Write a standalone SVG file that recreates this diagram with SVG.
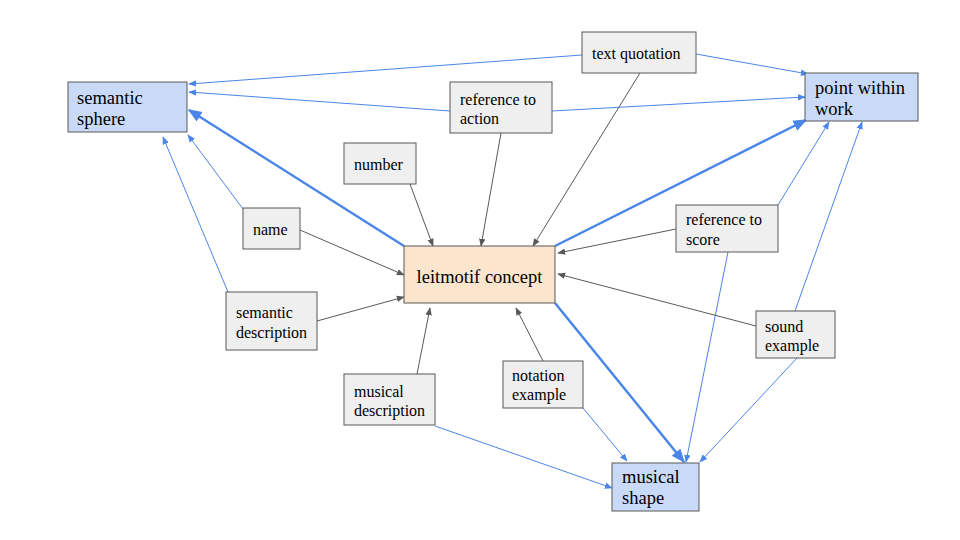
<svg xmlns="http://www.w3.org/2000/svg" width="960" height="540" viewBox="0 0 960 540">
<defs>
<marker id="ab" viewBox="0 0 10 10" refX="9" refY="5" markerWidth="8" markerHeight="8" markerUnits="userSpaceOnUse" orient="auto"><path d="M0,1 L10,5 L0,9 Z" fill="#4a86e8"/></marker>
<marker id="abig" viewBox="0 0 10 10" refX="9" refY="5" markerWidth="14" markerHeight="14" markerUnits="userSpaceOnUse" orient="auto"><path d="M0,1 L10,5 L0,9 Z" fill="#4a86e8"/></marker>
<marker id="ag" viewBox="0 0 10 10" refX="9" refY="5" markerWidth="8" markerHeight="8" markerUnits="userSpaceOnUse" orient="auto"><path d="M0,1 L10,5 L0,9 Z" fill="#595959"/></marker>
</defs>
<style>
.g rect{fill:#efefef;stroke:#595959;stroke-width:1}
.b rect{fill:#c9daf8;stroke:#595959;stroke-width:1}
.o rect{fill:#fce5cd;stroke:#595959;stroke-width:1}
text{fill:#000;font-family:"Liberation Serif","Times New Roman",serif}
.g text{font-size:16px}
.b text{font-size:18.5px}
.o text{font-size:18.5px}
.cb{stroke:#4a86e8;stroke-width:1;fill:none;marker-end:url(#ab)}
.cB{stroke:#4a86e8;stroke-width:2.5;fill:none;marker-end:url(#abig)}
.cg{stroke:#595959;stroke-width:1;fill:none;marker-end:url(#ag)}
</style>
<rect width="960" height="540" fill="#fff"/>
<g id="connectors">
<line class="cb" x1="582" y1="55" x2="189" y2="84"/>
<line class="cb" x1="696" y1="54" x2="808" y2="74"/>
<line class="cb" x1="450" y1="111" x2="189" y2="92"/>
<line class="cb" x1="552" y1="111" x2="805" y2="97"/>
<line class="cb" x1="243" y1="209" x2="188" y2="135"/>
<line class="cb" x1="228" y1="292" x2="163" y2="137"/>
<line class="cb" x1="778" y1="205" x2="829" y2="122"/>
<line class="cb" x1="728" y1="252" x2="686" y2="462"/>
<line class="cb" x1="795" y1="311" x2="862" y2="122"/>
<line class="cb" x1="797" y1="358" x2="700" y2="462"/>
<line class="cb" x1="435" y1="426" x2="612" y2="488"/>
<line class="cb" x1="583" y1="408" x2="627" y2="461"/>
<line class="cB" x1="404" y1="246" x2="189" y2="110"/>
<line class="cB" x1="555" y1="246" x2="806" y2="120"/>
<line class="cB" x1="555" y1="303" x2="684" y2="462"/>
<line class="cg" x1="640" y1="73" x2="533" y2="246"/>
<line class="cg" x1="501" y1="133" x2="481" y2="246"/>
<line class="cg" x1="410" y1="184" x2="433" y2="246"/>
<line class="cg" x1="300" y1="230" x2="404" y2="275"/>
<line class="cg" x1="317" y1="321" x2="404" y2="297"/>
<line class="cg" x1="417" y1="374" x2="430" y2="308"/>
<line class="cg" x1="543" y1="361" x2="516" y2="308"/>
<line class="cg" x1="676" y1="229" x2="558" y2="253"/>
<line class="cg" x1="756" y1="326" x2="558" y2="274"/>
</g>
<g id="semantic-sphere" class="b"><rect x="68" y="82" width="119" height="50"/><text x="77" y="104">semantic</text><text x="77" y="125">sphere</text></g>
<g id="point-within-work" class="b"><rect x="805" y="73" width="113" height="48"/><text x="815" y="94">point within</text><text x="815" y="115">work</text></g>
<g id="musical-shape" class="b"><rect x="612" y="463" width="87" height="48"/><text x="622" y="483">musical</text><text x="622" y="504">shape</text></g>
<g id="leitmotif-concept" class="o"><rect x="404" y="246" width="151" height="57"/><text x="479.5" y="283" text-anchor="middle">leitmotif concept</text></g>
<g id="text-quotation" class="g"><rect x="582" y="32" width="114" height="41"/><text x="592" y="59">text quotation</text></g>
<g id="reference-to-action" class="g"><rect x="450" y="82" width="102" height="51"/><text x="460" y="105">reference to</text><text x="460" y="124">action</text></g>
<g id="number" class="g"><rect x="344" y="143" width="72" height="41"/><text x="354" y="170">number</text></g>
<g id="name" class="g"><rect x="243" y="208" width="57" height="41"/><text x="253" y="235">name</text></g>
<g id="semantic-description" class="g"><rect x="226" y="292" width="91" height="58"/><text x="236" y="318">semantic</text><text x="236" y="338">description</text></g>
<g id="reference-to-score" class="g"><rect x="676" y="205" width="102" height="47"/><text x="686" y="225">reference to</text><text x="686" y="245">score</text></g>
<g id="sound-example" class="g"><rect x="756" y="311" width="79" height="47"/><text x="765" y="332">sound</text><text x="765" y="351">example</text></g>
<g id="musical-description" class="g"><rect x="344" y="374" width="91" height="51"/><text x="354" y="397">musical</text><text x="354" y="416">description</text></g>
<g id="notation-example" class="g"><rect x="503" y="361" width="80" height="47"/><text x="512" y="381">notation</text><text x="512" y="400">example</text></g>
</svg>
